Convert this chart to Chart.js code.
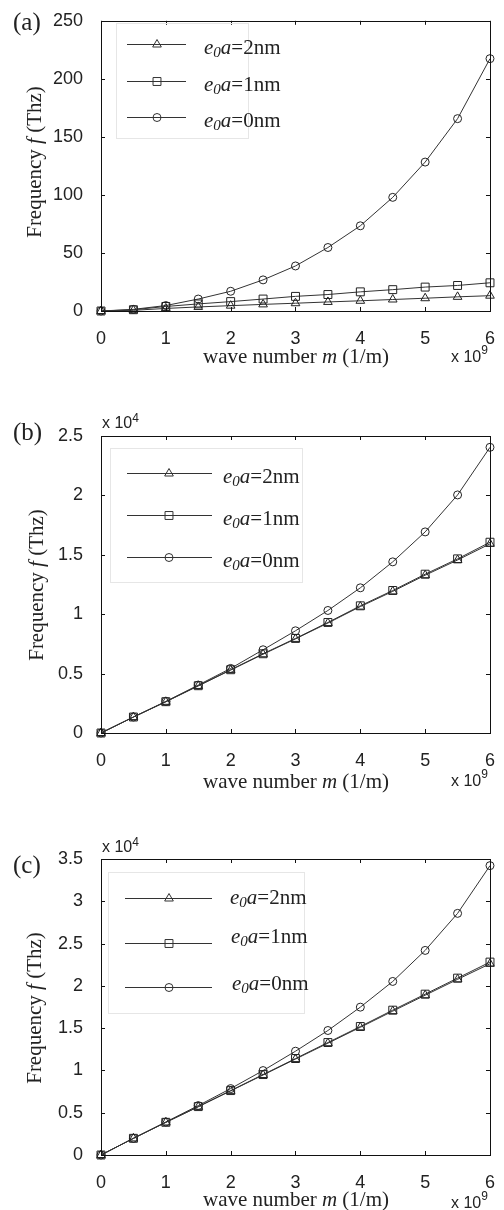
<!DOCTYPE html>
<html lang="en">
<head>
<meta charset="UTF-8">
<title>Frequency vs wave number</title>
<style>
  body { margin: 0; background: #fff; }
  .panel { position: absolute; left: 0; width: 504px; }
  canvas { display: block; }
</style>
</head>
<body>
<div class="panel" style="top:0"><canvas id="chart_a" width="504" height="400"></canvas></div>
<div class="panel" style="top:400px"><canvas id="chart_b" width="504" height="400"></canvas></div>
<div class="panel" style="top:800px"><canvas id="chart_c" width="504" height="410"></canvas></div>

<script src="https://cdn.jsdelivr.net/npm/chart.js@4"></script>
<script>
// wave number m, in units of 1e9 1/m
const waveNumber = [0, 0.5, 1, 1.5, 2, 2.5, 3, 3.5, 4, 4.5, 5, 5.5, 6];
const legendLabels = ["2nm", "1nm", "0nm"];
const markers = ["triangle", "rect", "circle"];

// panel (a), Thz
const a_2nm = [0, 0.6, 2.2, 3.5, 4.6, 5.7, 6.7, 7.8, 8.8, 9.9, 11.0, 12.2, 13.2];
const a_1nm = [0, 1.1, 3.9, 6.1, 8.1, 10.3, 12.6, 14.2, 16.5, 18.4, 20.6, 22.0, 24.3];
const a_0nm = [0, 1.4, 4.7, 10.3, 17.0, 26.8, 38.8, 54.7, 73.4, 97.9, 128.3, 165.7, 217.4];

// panel (b), Thz
const b_2nm = [0, 1340, 2625, 3960, 5295, 6630, 7920, 9255, 10640, 11920, 13280, 14560, 15920];
const b_1nm = [0, 1345, 2635, 3980, 5325, 6670, 7960, 9305, 10706, 11996, 13369, 14658, 16059];
const b_0nm = [0, 1345, 2663, 4036, 5437, 7007, 8604, 10314, 12220, 14406, 16928, 20039, 24047];

// panel (c), Thz
const c_2nm = [0, 1965, 3850, 5695, 7580, 9460, 11340, 13220, 15100, 17010, 18890, 20770, 22610];
const c_1nm = [0, 1973, 3867, 5722, 7616, 9511, 11405, 13299, 15193, 17127, 19021, 20915, 22810];
const c_0nm = [0, 1973, 3907, 5841, 7853, 9984, 12273, 14720, 17482, 20521, 24191, 28571, 34215];

const INK = "#222";
const SANS = "Liberation Sans, Arial, sans-serif";
const SERIF = "Liberation Serif, Times New Roman, serif";

function draw_runs(ctx, runs, x, y) {
    for (const r of runs) {
        ctx.font = r.font;
        ctx.fillText(r.t, x, y - (r.dy || 0));
        x += ctx.measureText(r.t).width;
    }
}

function run_width(ctx, runs) {
    let w = 0;
    for (const r of runs) {
        ctx.font = r.font;
        w += ctx.measureText(r.t).width;
    }
    return w;
}

const frame_plugin = {
    id: "frame",
    afterDraw(chart) {
        const ctx = chart.ctx;
        const p = chart.options.panel;
        const area = chart.chartArea;
        const xs = chart.scales.x, ys = chart.scales.y;
        ctx.save();
        ctx.strokeStyle = "#111";
        ctx.lineWidth = 1;
        ctx.strokeRect(Math.round(area.left) + 0.5, Math.round(area.top) + 0.5,
            Math.round(area.right - area.left), Math.round(area.bottom - area.top));

        // inward ticks on all four sides
        ctx.beginPath();
        xs.ticks.forEach(t => {
            const px = Math.round(xs.getPixelForValue(t.value)) + 0.5;
            ctx.moveTo(px, area.bottom); ctx.lineTo(px, area.bottom - 4);
            ctx.moveTo(px, area.top); ctx.lineTo(px, area.top + 4);
        });
        ys.ticks.forEach(t => {
            const py = Math.round(ys.getPixelForValue(t.value)) + 0.5;
            ctx.moveTo(area.left, py); ctx.lineTo(area.left + 4, py);
            ctx.moveTo(area.right, py); ctx.lineTo(area.right - 4, py);
        });
        ctx.stroke();

        ctx.fillStyle = INK;
        ctx.textBaseline = "alphabetic";
        ctx.textAlign = "left";

        // panel letter
        ctx.font = "25px " + SERIF;
        ctx.fillText(p.letter, 13, p.letterY);

        // x axis title
        const xt = [
            { t: "wave number ", font: "21px " + SERIF },
            { t: "m", font: "italic 21px " + SERIF },
            { t: " (1/m)", font: "21px " + SERIF }
        ];
        draw_runs(ctx, xt, 296 - run_width(ctx, xt) / 2, p.xTitleY);

        // y axis title
        const yt = [
            { t: "Frequency ", font: "21px " + SERIF },
            { t: "f", font: "italic 21px " + SERIF },
            { t: " (Thz)", font: "21px " + SERIF }
        ];
        ctx.save();
        ctx.translate(p.yTitleX, p.yTitleY);
        ctx.rotate(-Math.PI / 2);
        draw_runs(ctx, yt, -run_width(ctx, yt) / 2, 0);
        ctx.restore();

        // exponent notes
        draw_runs(ctx, [
            { t: "x 10", font: "16px " + SANS },
            { t: "9", font: "12px " + SANS, dy: 8 }
        ], 451, p.xExpY);
        if (p.yExp) {
            draw_runs(ctx, [
                { t: "x 10", font: "16px " + SANS },
                { t: p.yExp, font: "12px " + SANS, dy: 6 }
            ], 102, p.yExpY);
        }

        // legend
        const lg = p.legend;
        ctx.strokeStyle = "#e6e6e6";
        ctx.strokeRect(lg.box[0] + 0.5, lg.box[1] + 0.5, lg.box[2] - lg.box[0], lg.box[3] - lg.box[1]);
        chart.data.datasets.forEach((ds, i) => {
            const y = lg.rows[i];
            ctx.strokeStyle = "#333";
            ctx.lineWidth = 1;
            ctx.beginPath();
            ctx.moveTo(lg.line[0], y + 0.5);
            ctx.lineTo(lg.line[1], y + 0.5);
            ctx.stroke();
            ctx.fillStyle = "rgba(0,0,0,0)";
            Chart.helpers.drawPoint(ctx, {
                pointStyle: ds.pointStyle, radius: ds.pointRadius, borderWidth: 1, rotation: 0
            }, lg.marker, y + 0.5);
            ctx.fillStyle = INK;
            draw_runs(ctx, [
                { t: "e", font: "italic 21px " + SERIF },
                { t: "0", font: "italic 15px " + SERIF, dy: -3 },
                { t: "a", font: "italic 21px " + SERIF },
                { t: "=" + ds.label, font: "21px " + SERIF }
            ], lg.textX[i], y + lg.textDy[i]);
        });
        ctx.restore();
    }
};

function make_chart(element_id, series, p) {
    const datasets = series.map((values, i) => ({
        label: legendLabels[i],
        data: waveNumber.map((x, j) => ({ x, y: values[j] })),
        borderColor: "#333",
        borderWidth: 1,
        pointStyle: markers[i],
        pointRadius: [5, 5.6, 4][i],
        pointBorderColor: "#222",
        pointBorderWidth: 1,
        pointBackgroundColor: "rgba(0,0,0,0)",
        tension: 0,
        fill: false,
        clip: false
    }));
    new Chart(document.getElementById(element_id), {
        type: "line",
        data: { datasets },
        options: {
            panel: p,
            responsive: false,
            animation: false,
            events: [],
            layout: { padding: { top: p.top, right: p.right, left: 0, bottom: 0 } },
            plugins: { legend: { display: false }, tooltip: { enabled: false } },
            scales: {
                x: {
                    type: "linear", min: 0, max: 6,
                    ticks: { stepSize: 1, padding: 9, color: INK, font: { family: SANS, size: 18 } },
                    grid: { display: false },
                    border: { display: false },
                    afterFit: s => { s.height = p.xHeight; }
                },
                y: {
                    type: "linear", min: 0, max: p.yMax,
                    ticks: {
                        stepSize: p.yStep, padding: 10, color: INK,
                        font: { family: SANS, size: 18 },
                        callback: v => v / p.yScale
                    },
                    grid: { display: false },
                    border: { display: false },
                    afterFit: s => { s.width = 101; }
                }
            }
        },
        plugins: [frame_plugin]
    });
}

make_chart("chart_a", [a_2nm, a_1nm, a_0nm], {
    letter: "(a)", letterY: 30, top: 12, right: 10, xHeight: 89,
    yMax: 250, yStep: 50, yScale: 1,
    xTitleY: 363, yTitleX: 41, yTitleY: 162, xExpY: 362,
    legend: { box: [116, 23, 248, 138], rows: [44, 81, 117], line: [127, 186], marker: 157,
        textX: [204, 204, 204], textDy: [10, 10, 10] }
});

make_chart("chart_b", [b_2nm, b_1nm, b_0nm], {
    letter: "(b)", letterY: 40, top: 36, right: 10, xHeight: 67,
    yMax: 25000, yStep: 5000, yScale: 10000,
    xTitleY: 388, yTitleX: 43, yTitleY: 185, xExpY: 386, yExp: "4", yExpY: 28,
    legend: { box: [110, 48, 302, 182], rows: [73, 115, 157], line: [127, 212], marker: 169,
        textX: [223, 223, 223], textDy: [10, 10, 10] }
});

make_chart("chart_c", [c_2nm, c_1nm, c_0nm], {
    letter: "(c)", letterY: 73, top: 59, right: 11, xHeight: 55,
    yMax: 35000, yStep: 5000, yScale: 10000,
    xTitleY: 406, yTitleX: 41, yTitleY: 208, xExpY: 408, yExp: "4", yExpY: 52,
    legend: { box: [108, 72, 304, 213], rows: [98, 143, 187], line: [125, 212], marker: 169,
        textX: [230, 231, 232], textDy: [6, 0, 3] }
});
</script>
</body>
</html>
